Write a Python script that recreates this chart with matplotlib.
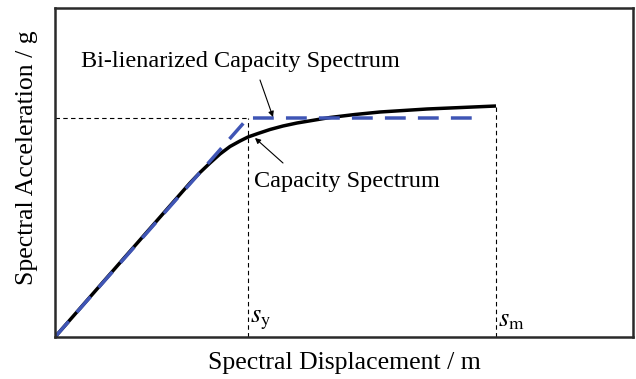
import numpy as np
import matplotlib.pyplot as plt

plt.rcParams["font.family"] = ["Liberation Serif", "DejaVu Serif"]
plt.rcParams["mathtext.fontset"] = "stix"

# capacity spectrum (schematic units)
sd_cap = [0, 70, 135, 145, 155, 165, 175, 185, 193, 203, 215, 228, 242,
          260, 275, 300, 325, 372, 441]
sa_cap = [0, 80, 154, 164.5, 174, 183, 190.5, 196, 200, 203.5, 207.5, 211, 214,
          217, 219.5, 222.5, 225, 228, 231]

# bi-linearized spectrum
sd_bil = [0, 193, 423]
sa_bil = [0, 219, 219]

s_y = 193
s_m = 441
sa_y = 219

fig = plt.figure(figsize=(6.36, 3.79), dpi=100)
ax = fig.add_axes([55/636, 42/379, 578/636, 329/379])
ax.set_xlim(0, 578)
ax.set_ylim(0, 329)

# guide lines
ax.plot([0, s_y], [sa_y, sa_y], color="black", lw=0.8, ls=(0, (4, 3)))
ax.plot([s_y, s_y], [0, sa_y], color="black", lw=0.8, ls=(0, (4, 3)))
ax.plot([s_m, s_m], [0, sa_cap[-1]], color="black", lw=0.8, ls=(0, (4, 3)))

ax.plot(sd_cap, sa_cap, color="black", lw=2.5, solid_capstyle="butt",
        solid_joinstyle="round")
ax.plot(sd_bil, sa_bil, color="#3f55b5", lw=2.5, ls=(0, (6, 3.5)))

arrow = dict(arrowstyle="-|>", color="black", lw=0.8, mutation_scale=8,
             shrinkA=0, shrinkB=0)
ax.text(185, 275, "Bi-lienarized Capacity Spectrum", fontsize=17.5,
        ha="center", va="center")
ax.annotate("", xy=(218, 220), xytext=(205, 257), arrowprops=arrow)
ax.text(292, 155, "Capacity Spectrum", fontsize=17.5, ha="center", va="center")
ax.annotate("", xy=(200, 199), xytext=(228, 174), arrowprops=arrow)

ax.text(s_y + 2, 5, r"$s_{\mathrm{y}}$", fontsize=19, ha="left", va="bottom")
ax.text(s_m + 2, 5, r"$s_{\mathrm{m}}$", fontsize=19, ha="left", va="bottom")

ax.set_xticks([])
ax.set_yticks([])
for sp in ax.spines.values():
    sp.set_linewidth(1.8)
    sp.set_color("#2a2a2a")

ax.set_xlabel("Spectral Displacement / m", fontsize=18.5, labelpad=11)
ax.set_ylabel("Spectral Acceleration / g", fontsize=18.5, labelpad=11)
ax.yaxis.set_label_coords(-0.03, 0.545)

fig.savefig("out.png", dpi=100)
